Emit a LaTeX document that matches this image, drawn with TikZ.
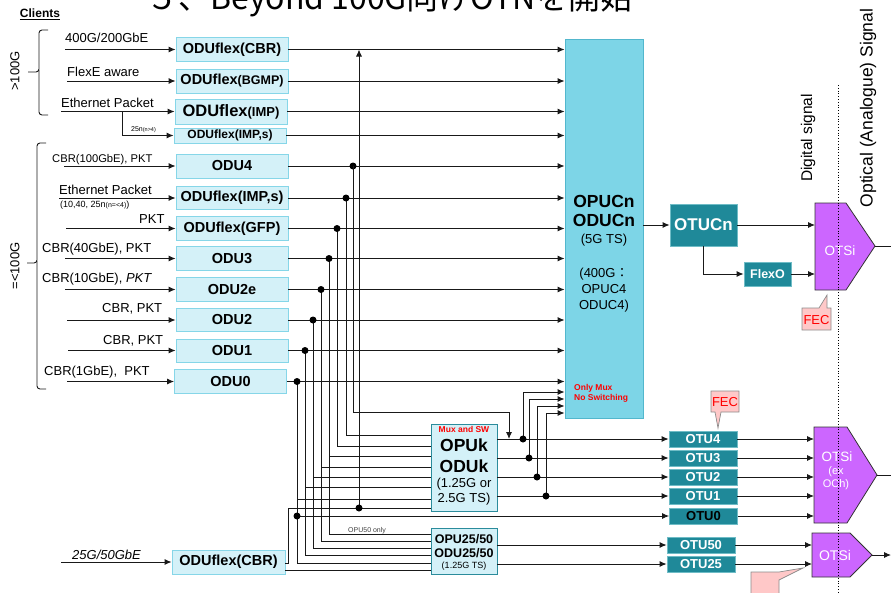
\documentclass[tikz,border=0pt]{standalone}
\usepackage{fontspec}
\setmainfont{Liberation Sans}
\newfontfamily\cjk{Noto Sans CJK JP}
\usetikzlibrary{calc, arrows.meta}

\definecolor{clientfill}{HTML}{D4F1F8}
\definecolor{clientdraw}{HTML}{86D6E8}
\definecolor{opucfill}{HTML}{7DD5E7}
\definecolor{opucdraw}{HTML}{52B7CD}
\definecolor{otufill}{HTML}{1F8999}
\definecolor{otudraw}{HTML}{6FBCC6}
\definecolor{muxdraw}{HTML}{2B8C9C}
\definecolor{otsifill}{HTML}{CC66FF}
\definecolor{fecfill}{HTML}{FFC8C8}

\newcommand{\fsz}[1]{\fontsize{#1}{#1}\selectfont}

\tikzset{
  >={Latex[length=7pt,width=6pt]},
  conn/.style={draw=black!90, line width=0.9pt},
  clientbox/.style={draw=clientdraw, fill=clientfill, line width=0.9pt, minimum width=112pt, minimum height=24pt, inner sep=0pt, font=\bfseries\fsz{14.5}},
  otubox/.style={draw=otudraw, fill=otufill, text=white, line width=0.8pt, minimum width=68pt, minimum height=16pt, inner sep=0pt, font=\bfseries\fsz{13}},
  muxbox/.style={draw=muxdraw, fill=clientfill, line width=0.9pt, inner sep=0pt},
  inlbl/.style={anchor=base west, inner sep=0pt, font=\fsz{13}},
  otsishape/.style={draw=black!80, fill=otsifill, line width=0.8pt},
  fecbox/.style={draw=black!45, fill=fecfill, line width=0.7pt},
}

\begin{document}
\begin{tikzpicture}[x=1pt, y=-1pt]
\useasboundingbox (0,0) rectangle (891,592);
\clip (0,0) rectangle (891,592);

% title, cut off at the top edge
\node[anchor=base west, inner sep=0pt, font=\cjk\fsz{32}] (title) at (146,9) {５、Beyond 100G向けOTNを開始};

% clients and braces
\node[font=\bfseries\fsz{12}, inner sep=0pt] (clients) at (40,14) {\underline{Clients}};
\node[rotate=90, font=\fsz{13}, inner sep=0pt] (gt100) at (15,71) {>100G};
\node[rotate=90, font=\fsz{13}, inner sep=0pt] (le100) at (15,266) {=<100G};
\draw[conn, rounded corners=3pt] (48,30) -- (39,30) -- (39,72) -- (28,72);
\draw[conn, rounded corners=3pt] (39,70) -- (39,115) -- (48,115);
\draw[conn, rounded corners=3pt] (46,143) -- (37,143) -- (37,263) -- (27,263);
\draw[conn, rounded corners=3pt] (37,261) -- (37,389) -- (46,389);

% ODU boxes
\node[clientbox] (c1) at (232,49.5) {ODUflex(CBR)};
\node[clientbox] (c2) at (232,81) {ODUflex{\fsz{12.5}(BGMP)}};
\node[clientbox, minimum height=25pt] (c3) at (231,111.5) {{\fsz{16.5}ODUflex}{\fsz{13}(IMP)}};
\node[clientbox, minimum height=15pt, font=\bfseries\fsz{12}] (c4) at (230,135.5) {ODUflex(IMP,s)};
\node[clientbox] (c5) at (232,166) {ODU4};
\node[clientbox, minimum height=23pt] (c6) at (232,198) {ODUflex(IMP,s)};
\node[clientbox] (c7) at (232,228.5) {ODUflex(GFP)};
\node[clientbox] (c8) at (232,258.5) {ODU3};
\node[clientbox] (c9) at (232,289.5) {ODU2e};
\node[clientbox, minimum height=23pt] (c10) at (232,320) {ODU2};
\node[clientbox, minimum height=23pt] (c11) at (232,350.5) {ODU1};
\node[clientbox] (c12) at (230.5,381.5) {ODU0};
\node[clientbox, minimum width=113pt] (c13) at (228.5,562) {ODUflex(CBR)};

% client inputs
\foreach \n/\x in {1/65, 2/67, 3/61, 5/64, 6/59, 7/66, 8/65, 9/65, 10/67, 11/68, 12/67, 13/61} {
  \coordinate (s\n) at (\x,0 |- c\n.west);
  \draw[conn,->] (s\n) -- (c\n.west);
}
\draw[conn,->] (s3 -| 122,0) |- (c4.west);

\node[inlbl] (l1) at (65,42) {400G/200GbE};
\node[inlbl] (l2) at (67,76) {FlexE aware};
\node[inlbl] (l3) at (61,107) {Ethernet Packet};
\node[inlbl, font=\fsz{7}] (l4) at (131,131) {25n{\fsz{5.5}(n>4)}};
\node[inlbl, font=\fsz{11.2}] (l5) at (52,162) {CBR(100GbE), PKT};
\node[inlbl] (l6) at (59,194) {Ethernet Packet};
\node[inlbl, font=\fsz{9}] (l6b) at (60,207) {(10,40, 25n{\fsz{7}(n=<4)})};
\node[inlbl] (l7) at (139,223) {PKT};
\node[inlbl] (l8) at (42,252) {CBR(40GbE), PKT};
\node[inlbl] (l9) at (42,282) {CBR(10GbE), \textit{PKT}};
\node[inlbl] (l10) at (102,312) {CBR, PKT};
\node[inlbl] (l11) at (103,344) {CBR, PKT};
\node[inlbl] (l12) at (44,375) {CBR(1GbE),\ \ PKT};
\node[inlbl] (l13) at (72,559) {\textit{25G/50GbE}};

% OPUCn / ODUCn
\node[draw=opucdraw, fill=opucfill, line width=0.9pt, minimum width=78pt, minimum height=379pt, inner sep=0pt] (opucn) at (604,228.5) {};
\node[font=\bfseries\fontsize{17.5}{19}\selectfont, align=center, inner sep=0pt] (opucnt) at (604,210.5) {OPUCn\\ODUCn};
\node[font=\fsz{13}, inner sep=0pt] (opucts) at (604,240) {(5G TS)};
\node[font=\fontsize{13}{16}\selectfont, align=center, inner sep=0pt] (opucnc4) at (604,290) {(400G{\cjk：}\\OPUC4\\ODUC4)};
\node[anchor=west, text=red, font=\bfseries\fontsize{8.5}{10}\selectfont, align=left, inner sep=0pt] (onlymux) at (574,393) {Only Mux\\No Switching};

\foreach \n in {1,...,12}
  \draw[conn,->] (c\n.east) -- (c\n.east -| opucn.west);

% OPUk / ODUk and OPU25/50
\node[muxbox, minimum width=66pt, minimum height=87pt] (opuk) at (464,467.5) {};
\node[text=red, font=\bfseries\fsz{8.5}, inner sep=0pt] (muxsw) at (464,429) {Mux and SW};
\node[font=\bfseries\fontsize{17.5}{21}\selectfont, align=center, inner sep=0pt] (opukt) at (464,455.5) {OPUk\\ODUk};
\node[font=\fontsize{13}{15}\selectfont, align=center, inner sep=0pt] (opukts) at (464,491.5) {(1.25G or\\2.5G TS)};

\node[muxbox, minimum width=66pt, minimum height=46pt] (opu25) at (464,551) {};
\node[font=\bfseries\fontsize{12.5}{14}\selectfont, align=center, inner sep=0pt] (opu25t) at (464,546) {OPU25/50\\ODU25/50};
\node[font=\fsz{9}, inner sep=0pt] (opu25ts) at (464,566) {(1.25G TS)};
\node[inlbl, font=\fsz{7}, text=black!75] (opu50) at (348,532) {OPU50 only};

% drops from the ODU lines
\foreach \n/\x in {5/353, 6/346, 7/337, 8/329, 9/321, 10/313, 11/305, 12/297}
  \coordinate (xd\n) at (\x,0);
\foreach \n/\yk in {6/435, 7/446, 8/456, 9/467, 10/477, 11/487, 12/499}
  \draw[conn] (c\n.east -| xd\n) |- (opuk.west |- 0,\yk);
\foreach \n/\yk in {8/534, 9/541, 10/548, 11/555, 12/563}
  \draw[conn] (c\n.east -| xd\n) |- (opu25.west |- 0,\yk);
\foreach \n in {5,...,12}
  \fill (c\n.east -| xd\n) circle (3.5pt);

% OTU boxes
\node[otubox] (otu4) at (703,439) {OTU4};
\node[otubox] (otu3) at (703,458) {OTU3};
\node[otubox] (otu2) at (703,477) {OTU2};
\node[otubox] (otu1) at (703,496) {OTU1};
\node[otubox, text=black] (otu0) at (703.5,516) {OTU0};
\node[otubox] (otu50) at (701,545) {OTU50};
\node[otubox] (otu25) at (701,564) {OTU25};

\coordinate (k4) at (509,412);
\draw[conn,->] (c5.east -| xd5) |- (k4) -- (k4 |- otu4.west);

\foreach \o/\x/\ya in {otu4/523/392, otu3/529/399, otu2/537/406, otu1/546/413} {
  \draw[conn,->] (opuk.east |- \o.west) -- (\o.west);
  \draw[conn,->] (\x,0 |- \o.west) |- (opucn.west |- 0,\ya);
  \fill (\x,0 |- \o.west) circle (3.5pt);
}
\draw[conn,->] (xd12 |- otu0.west) -- (otu0.west);
\fill (xd12 |- otu0.west) circle (3.5pt);
\draw[conn,->] (opu25.east |- otu50.west) -- (otu50.west);
\draw[conn,->] (opu25.east |- otu25.west) -- (otu25.west);

% 25G/50G client
\coordinate (xr13) at (288,0);
\coordinate (xd13) at (359,0);
\draw[conn] (c13.east |- 0,563) -| (xr13 |- 0,508) -- (opuk.west |- 0,508);
\draw[conn,->] (xd13 |- 0,508) -- (xd13 |- c1.east);
\fill (xd13 |- 0,508) circle (3.5pt);
\draw[conn] (c13.east |- 0,570) -- (opu25.west |- 0,570);

% OTUCn, FlexO
\node[otubox, minimum width=67pt, minimum height=42pt, font=\bfseries\fsz{17}] (otucn) at (703.5,225) {OTUCn};
\node[otubox, minimum width=47pt, minimum height=24pt, font=\bfseries\fsz{12.5}] (flexo) at (767.5,274) {FlexO};

% OTSi
\coordinate (otsiA) at (815,246);
\coordinate (otsiB) at (814,475);
\coordinate (otsiC) at (812,555);
\draw[otsishape] (815,203) -- (846,203) -- (875,246) -- (846,290) -- (815,290) -- cycle;
\draw[otsishape] (814,427) -- (847,427) -- (877,475) -- (847,523) -- (814,523) -- cycle;
\draw[otsishape] (812,533) -- (850,533) -- (872,555) -- (850,577) -- (812,577) -- cycle;
\node[text=white, font=\fsz{13.5}, inner sep=0pt] (otsiAt) at (840,251) {OTSi};
\node[text=white, font=\fsz{13.5}, inner sep=0pt] (otsiBt) at (837,457) {OTSi};
\node[text=white, font=\fontsize{11}{13}\selectfont, align=center, inner sep=0pt] (otsiBs) at (836,478) {(ex\\OCh)};
\node[text=white, font=\fsz{14}, inner sep=0pt] (otsiCt) at (835,555) {OTSi};

\draw[conn,->] (opucn.east |- otucn.west) -- (otucn.west);
\draw[conn,->] (otucn.east) -- (otucn.east -| otsiA);
\draw[conn,->] (otucn.south) |- (flexo.west);
\draw[conn,->] (flexo.east) -- (flexo.east -| otsiA);
\foreach \o in {otu4, otu3, otu2, otu1, otu0}
  \draw[conn,->] (\o.east) -- (\o.east -| otsiB);
\foreach \o in {otu50, otu25}
  \draw[conn,->] (\o.east) -- (\o.east -| otsiC);
\draw[conn,->] (875,246) -- (898,246);
\draw[conn,->] (877,475) -- (899,475);
\draw[conn,->] (872,555) -- (891,555);

% FEC call-outs
\draw[fecbox] (802,308) -- (819,308) -- (827,295) -- (827,308) -- (831,308) -- (831,330) -- (802,330) -- cycle;
\node[text=red, font=\fsz{13}, inner sep=0pt] (fec1) at (816.5,320) {FEC};
\draw[fecbox] (711,391) -- (739,391) -- (739,412) -- (721,412) -- (718,428) -- (715,412) -- (711,412) -- cycle;
\node[text=red, font=\fsz{13}, inner sep=0pt] (fec2) at (725,402) {FEC};
\draw[fecbox] (751,600) -- (751,572) -- (779,572) -- (803,568) -- (779,580) -- (779,600) -- cycle;

% digital / optical border
\draw[dotted, line width=0.8pt] (838,85) -- (838,592);
\node[rotate=90, font=\fsz{15.5}, inner sep=0pt] (digital) at (808,138) {Digital signal};
\node[rotate=90, font=\fsz{17.5}, inner sep=0pt] (optical) at (868,108) {Optical (Analogue) Signal};

\end{tikzpicture}
\end{document}
